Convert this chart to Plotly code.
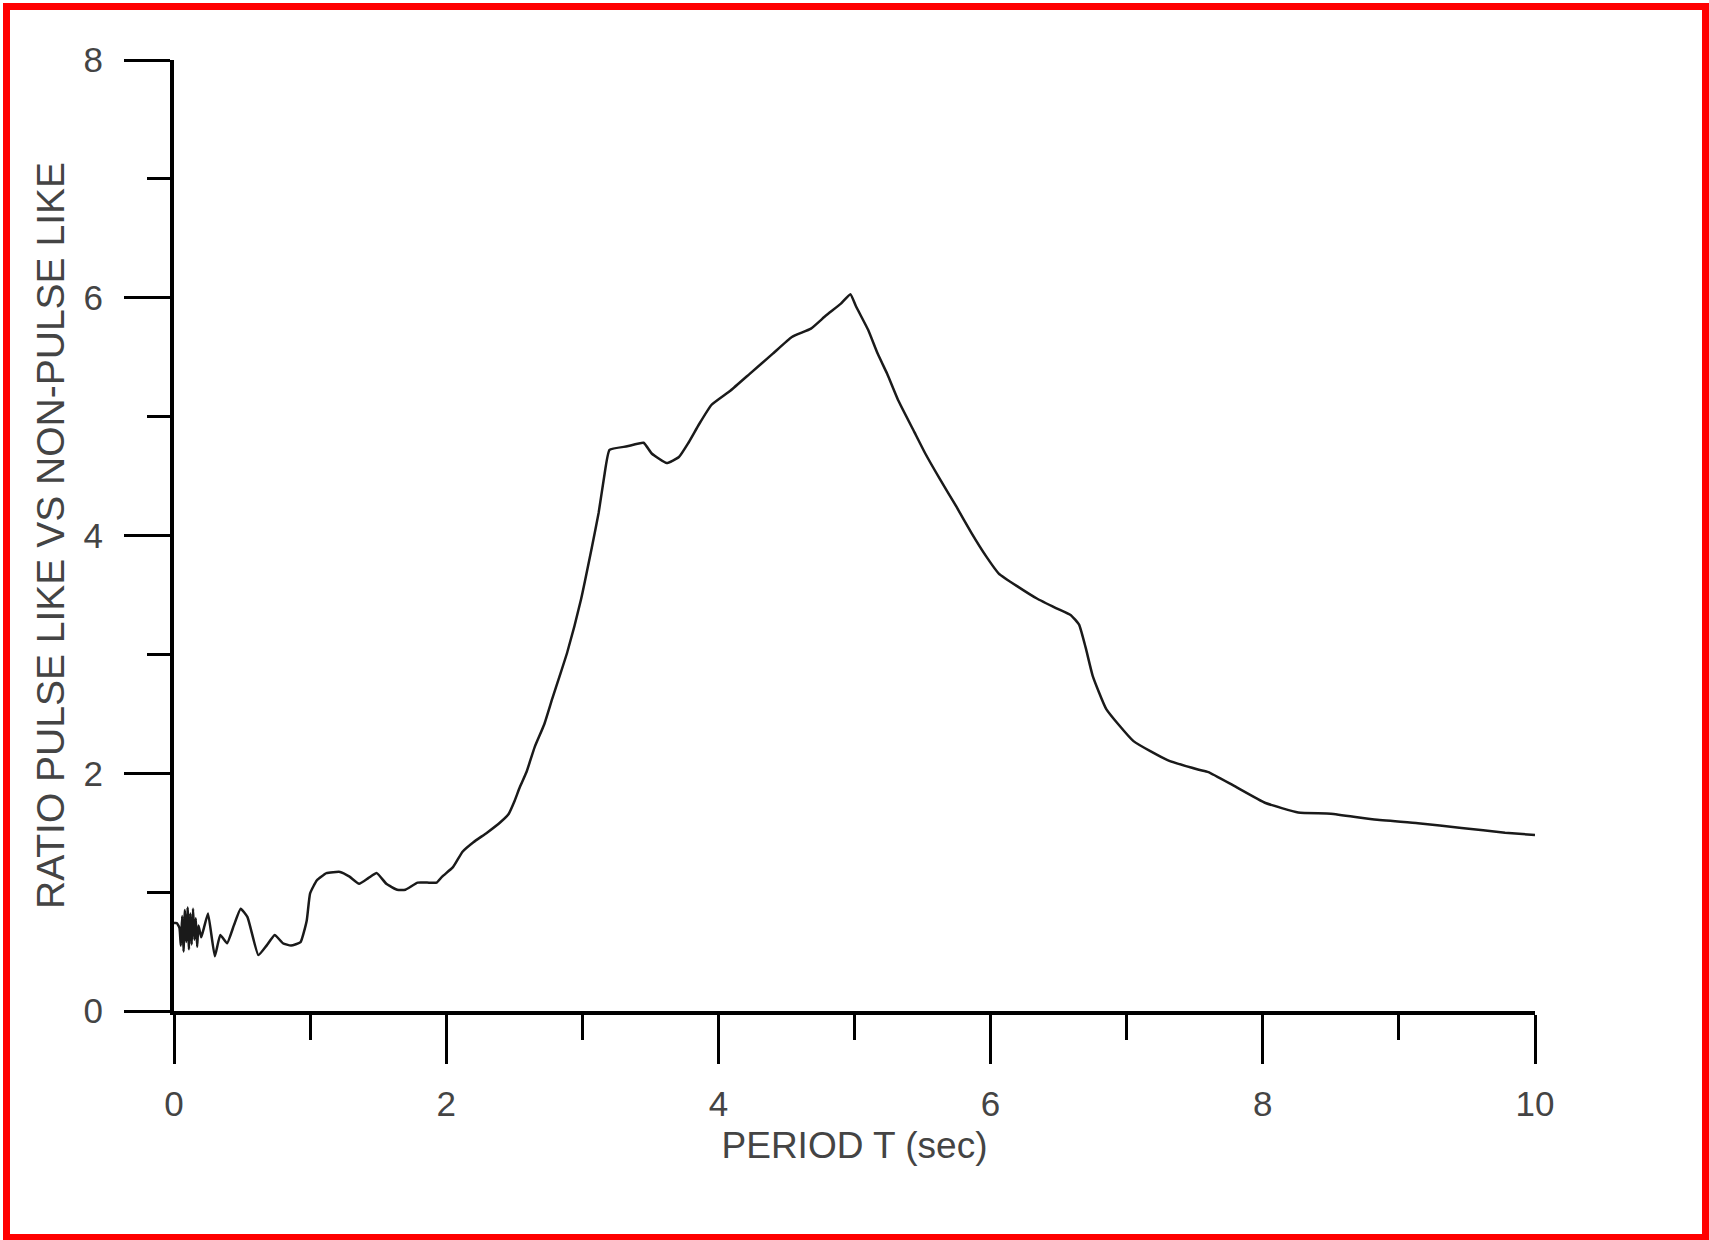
import plotly.graph_objects as go

# ---- data ----
period_s = [0.0, 0.02, 0.04, 0.05, 0.06, 0.07, 0.08, 0.09, 0.10, 0.11, 0.12, 0.13, 0.14,
            0.15, 0.16, 0.17, 0.18, 0.20, 0.22, 0.25, 0.30, 0.34, 0.39, 0.44, 0.49, 0.54,
            0.62, 0.68, 0.74, 0.80, 0.86, 0.93, 0.975, 1.0, 1.05, 1.12, 1.22, 1.29, 1.36,
            1.43, 1.49, 1.56, 1.64, 1.70, 1.79, 1.86, 1.93, 1.97, 2.05, 2.12, 2.20, 2.30,
            2.40, 2.46, 2.50, 2.54, 2.59, 2.65, 2.72, 2.78, 2.84, 2.89, 2.99, 3.07, 3.12,
            3.16, 3.20, 3.33, 3.45, 3.51, 3.62, 3.71, 3.78, 3.86, 3.95, 4.09, 4.23, 4.40,
            4.54, 4.68, 4.79, 4.90, 4.97, 5.01, 5.10, 5.17, 5.24, 5.32, 5.44, 5.52, 5.63,
            5.75, 5.86, 5.97, 6.06, 6.20, 6.34, 6.48, 6.59, 6.65, 6.70, 6.75, 6.85, 7.05,
            7.30, 7.53, 7.60, 7.78, 8.02, 8.26, 8.50, 8.82, 9.14, 9.46, 9.78, 10.0]

ratio = [0.74, 0.74, 0.70, 0.55, 0.80, 0.50, 0.85, 0.58, 0.87, 0.52, 0.82, 0.56, 0.86,
         0.60, 0.78, 0.54, 0.72, 0.62, 0.70, 0.82, 0.46, 0.64, 0.57, 0.72, 0.86, 0.79,
         0.47, 0.55, 0.64, 0.57, 0.55, 0.58, 0.76, 0.99, 1.10, 1.16, 1.17, 1.13, 1.07,
         1.12, 1.16, 1.07, 1.02, 1.02, 1.08, 1.08, 1.08, 1.13, 1.21, 1.34, 1.42, 1.50,
         1.59, 1.66, 1.76, 1.88, 2.01, 2.22, 2.41, 2.63, 2.84, 3.02, 3.46, 3.90, 4.19,
         4.49, 4.72, 4.75, 4.78, 4.69, 4.61, 4.66, 4.78, 4.94, 5.10, 5.22, 5.36, 5.53,
         5.67, 5.74, 5.85, 5.95, 6.03, 5.93, 5.73, 5.53, 5.36, 5.14, 4.87, 4.69, 4.47,
         4.24, 4.02, 3.82, 3.68, 3.57, 3.47, 3.39, 3.33, 3.25, 3.05, 2.82, 2.54, 2.27,
         2.11, 2.03, 2.01, 1.90, 1.75, 1.67, 1.66, 1.61, 1.58, 1.54, 1.50, 1.48]

x_ticks = [0, 2, 4, 6, 8, 10]
y_ticks = [0, 2, 4, 6, 8]
x_title = "PERIOD T (sec)"
y_title = "RATIO PULSE LIKE VS NON-PULSE LIKE"

# ---- layout geometry (pixels) ----
W, H = 1709, 1240
L, R, T, B = 174, 174, 60, 229
pw, ph = W - L - R, H - T - B

def px_to_paper_x(px):
    return (px - L) / pw

def px_to_paper_y(py):
    return (H - B - py) / ph

FONT = "Liberation Sans, Arial, sans-serif"
TXT = "#444444"

fig = go.Figure()
fig.add_trace(go.Scatter(x=period_s, y=ratio, mode="lines",
                         line=dict(color="#1a1a1a", width=2.5, shape="spline", smoothing=0.4),
                         showlegend=False, hoverinfo="x+y"))

fig.update_layout(
    width=W, height=H, autosize=False,
    margin=dict(l=L, r=R, t=T, b=B, pad=0),
    paper_bgcolor="white", plot_bgcolor="white",
    font=dict(family=FONT, color=TXT),
    shapes=[dict(type="rect", xref="paper", yref="paper",
                 x0=px_to_paper_x(6.5), x1=px_to_paper_x(1705.5),
                 y0=px_to_paper_y(1237.5), y1=px_to_paper_y(6.5),
                 line=dict(color="#ff0000", width=7), fillcolor="rgba(0,0,0,0)",
                 layer="above")],
)

fig.update_xaxes(
    range=[0, 10], tickvals=x_ticks, ticktext=[str(v) for v in x_ticks],
    showgrid=False, zeroline=False,
    showline=True, linecolor="black", linewidth=4,
    ticks="outside", ticklen=49, tickwidth=3, tickcolor="black",
    tickfont=dict(size=35, family=FONT, color=TXT),
    ticklabelstandoff=10,
    minor=dict(dtick=1, tick0=0, ticks="outside", ticklen=25, tickwidth=3, tickcolor="black", showgrid=False),
    title=dict(text=x_title, font=dict(size=37, family=FONT, color=TXT), standoff=11),
)
fig.update_yaxes(
    range=[0, 8], tickvals=y_ticks, ticktext=[str(v) for v in y_ticks],
    showgrid=False, zeroline=False,
    showline=True, linecolor="black", linewidth=4,
    ticks="outside", ticklen=46, tickwidth=3, tickcolor="black",
    tickfont=dict(size=35, family=FONT, color=TXT),
    ticklabelstandoff=14,
    minor=dict(dtick=1, tick0=0, ticks="outside", ticklen=23, tickwidth=3, tickcolor="black", showgrid=False),
    title=dict(text=y_title, font=dict(size=39, family=FONT, color=TXT), standoff=8),
)

fig.write_html("out.html")
